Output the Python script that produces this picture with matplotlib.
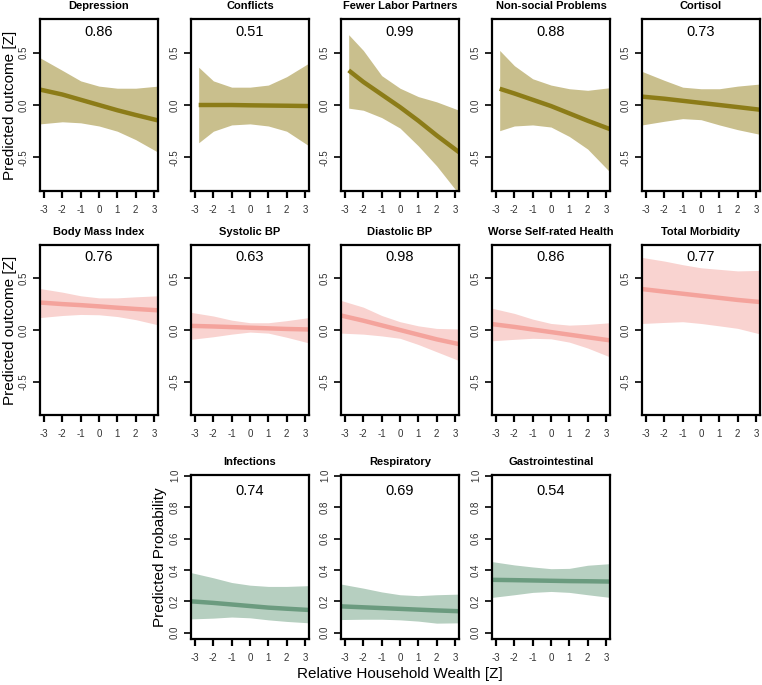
import numpy as np
import matplotlib
matplotlib.use("Agg")
import matplotlib.pyplot as plt

plt.rcParams['font.family'] = ['Liberation Sans', 'DejaVu Sans']

x_full = [-3.22, -2, -1, 0, 1, 2, 3.22]
x_part = [-2.8, -2, -1, 0, 1, 2, 3.22]

titles = ["Depression", "Conflicts", "Fewer Labor Partners", "Non-social Problems", "Cortisol",
          "Body Mass Index", "Systolic BP", "Diastolic BP", "Worse Self-rated Health", "Total Morbidity",
          "Infections", "Respiratory", "Gastrointestinal"]
probs = ["0.86", "0.51", "0.99", "0.88", "0.73",
         "0.76", "0.63", "0.98", "0.86", "0.77",
         "0.74", "0.69", "0.54"]

# predicted line, upper and lower bounds per panel
depression = ([0.147, 0.10, 0.05, 0.0, -0.05, -0.095, -0.147],
              [0.45, 0.33, 0.23, 0.18, 0.16, 0.16, 0.18],
              [-0.18, -0.16, -0.17, -0.20, -0.25, -0.33, -0.45])
conflicts = ([0.0, 0.0, 0.0, -0.003, -0.005, -0.007, -0.01],
             [0.36, 0.23, 0.17, 0.17, 0.19, 0.27, 0.40],
             [-0.36, -0.25, -0.19, -0.18, -0.20, -0.25, -0.39])
labor = ([0.33, 0.22, 0.10, -0.02, -0.15, -0.29, -0.45],
         [0.67, 0.52, 0.28, 0.16, 0.08, 0.03, -0.05],
         [-0.03, -0.05, -0.12, -0.22, -0.39, -0.58, -0.85])
nonsocial = ([0.155, 0.11, 0.05, -0.01, -0.08, -0.15, -0.23],
             [0.52, 0.375, 0.25, 0.19, 0.155, 0.14, 0.165],
             [-0.245, -0.20, -0.19, -0.21, -0.30, -0.42, -0.64])
cortisol = ([0.08, 0.06, 0.04, 0.02, 0.0, -0.02, -0.045],
            [0.32, 0.235, 0.17, 0.155, 0.155, 0.18, 0.20],
            [-0.19, -0.155, -0.13, -0.14, -0.19, -0.235, -0.28])
bmi = ([0.265, 0.25, 0.24, 0.228, 0.215, 0.203, 0.19],
       [0.40, 0.365, 0.33, 0.31, 0.31, 0.32, 0.33],
       [0.12, 0.14, 0.15, 0.147, 0.13, 0.10, 0.05])
systolic = ([0.04, 0.034, 0.028, 0.022, 0.016, 0.01, 0.005],
            [0.17, 0.135, 0.095, 0.07, 0.07, 0.09, 0.12],
            [-0.09, -0.065, -0.04, -0.02, -0.03, -0.07, -0.125])
diastolic = ([0.14, 0.09, 0.045, 0.0, -0.045, -0.09, -0.136],
             [0.285, 0.22, 0.14, 0.08, 0.04, 0.015, 0.01],
             [-0.03, -0.04, -0.057, -0.08, -0.14, -0.21, -0.295])
selfrated = ([0.057, 0.03, 0.005, -0.02, -0.045, -0.07, -0.10],
             [0.21, 0.16, 0.105, 0.063, 0.047, 0.054, 0.07],
             [-0.104, -0.09, -0.08, -0.085, -0.117, -0.174, -0.26])
morbidity = ([0.395, 0.37, 0.35, 0.33, 0.31, 0.29, 0.27],
             [0.70, 0.665, 0.63, 0.60, 0.585, 0.57, 0.575],
             [0.063, 0.073, 0.08, 0.063, 0.04, 0.016, -0.038])
infections = ([0.20, 0.19, 0.18, 0.17, 0.16, 0.153, 0.145],
              [0.383, 0.35, 0.32, 0.303, 0.295, 0.295, 0.30],
              [0.088, 0.093, 0.10, 0.095, 0.082, 0.072, 0.063])
respiratory = ([0.168, 0.162, 0.157, 0.152, 0.147, 0.142, 0.137],
               [0.31, 0.284, 0.26, 0.242, 0.236, 0.242, 0.246],
               [0.084, 0.086, 0.086, 0.082, 0.074, 0.061, 0.063])
gastro = ([0.337, 0.335, 0.333, 0.331, 0.329, 0.328, 0.326],
          [0.453, 0.432, 0.419, 0.408, 0.41, 0.43, 0.44],
          [0.225, 0.242, 0.257, 0.263, 0.257, 0.242, 0.225])

panels = [depression, conflicts, labor, nonsocial, cortisol,
          bmi, systolic, diastolic, selfrated, morbidity,
          infections, respiratory, gastro]
panel_x = [x_full, x_part, x_part, x_part, x_full] + [x_full] * 8

x_ticks = [-3, -2, -1, 0, 1, 2, 3]
z_ticks = [-0.5, 0.0, 0.5]
p_ticks = [0.0, 0.2, 0.4, 0.6, 0.8, 1.0]

olive = ("#8c7c18", "#c9bf8d")
pink = ("#f4a39c", "#f9d3d0")
green = ("#6b9b7f", "#b6cfc0")

W, H = 762, 685
fig = plt.figure(figsize=(W / 100, H / 100), dpi=100)

col_left = [40, 191, 341, 492, 642]
box_w = 118
rows = [(19, 191), (245, 415), (475, 639)]


def add_box(left, top, bottom):
    return fig.add_axes([left / W, 1 - bottom / H, box_w / W, (bottom - top) / H])


for i, (title, p, data, xs) in enumerate(zip(titles, probs, panels, panel_x)):
    if i < 10:
        r, c = divmod(i, 5)
    else:
        r, c = 2, i - 9
    top, bottom = rows[r]
    ax = add_box(col_left[c], top, bottom)
    if r == 0:
        colors = olive
    elif r == 1:
        colors = pink
    else:
        colors = green
    line, up, lo = data
    ax.fill_between(xs, lo, up, color=colors[1], lw=0)
    ax.plot(xs, line, color=colors[0], lw=3.2, solid_capstyle='butt')
    ax.set_xlim(-3.22, 3.22)
    if r < 2:
        ax.set_ylim(-0.82, 0.82)
        ax.set_yticks(z_ticks)
        ax.set_yticklabels(["-0.5", "0.0", "0.5"])
        ax.text(0, 0.7, p, ha='center', va='center', fontsize=10.5)
    else:
        ax.set_ylim(-0.04, 1.005)
        ax.set_yticks(p_ticks)
        ax.set_yticklabels(["0.0", "0.2", "0.4", "0.6", "0.8", "1.0"])
        ax.text(0, 0.9, p, ha='center', va='center', fontsize=10.5)
    ax.set_xticks(x_ticks)
    ax.set_xticklabels([str(t) for t in x_ticks])
    ax.tick_params(axis='x', length=5, width=1.6, pad=5, labelsize=7, labelcolor='#333333')
    ax.tick_params(axis='y', length=5, width=1.2, pad=3, labelsize=7, labelcolor='#333333')
    for lab in ax.get_yticklabels():
        lab.set_rotation(90)
        lab.set_va('center')
    for s in ax.spines.values():
        s.set_linewidth(1.6)
    fig.text((col_left[c] + box_w / 2) / W, 1 - (top - 13) / H, title,
             ha='center', va='center', fontsize=8, fontweight='bold')

fig.text(10 / W, 1 - 105 / H, "Predicted outcome [Z]", rotation=90,
         ha='center', va='center', fontsize=11)
fig.text(10 / W, 1 - 330 / H, "Predicted outcome [Z]", rotation=90,
         ha='center', va='center', fontsize=11)
fig.text(160 / W, 1 - 557 / H, "Predicted Probability", rotation=90,
         ha='center', va='center', fontsize=11)
fig.text(400 / W, 1 - 674 / H, "Relative Household Wealth [Z]",
         ha='center', va='center', fontsize=11)

fig.savefig("out.png", dpi=100)
